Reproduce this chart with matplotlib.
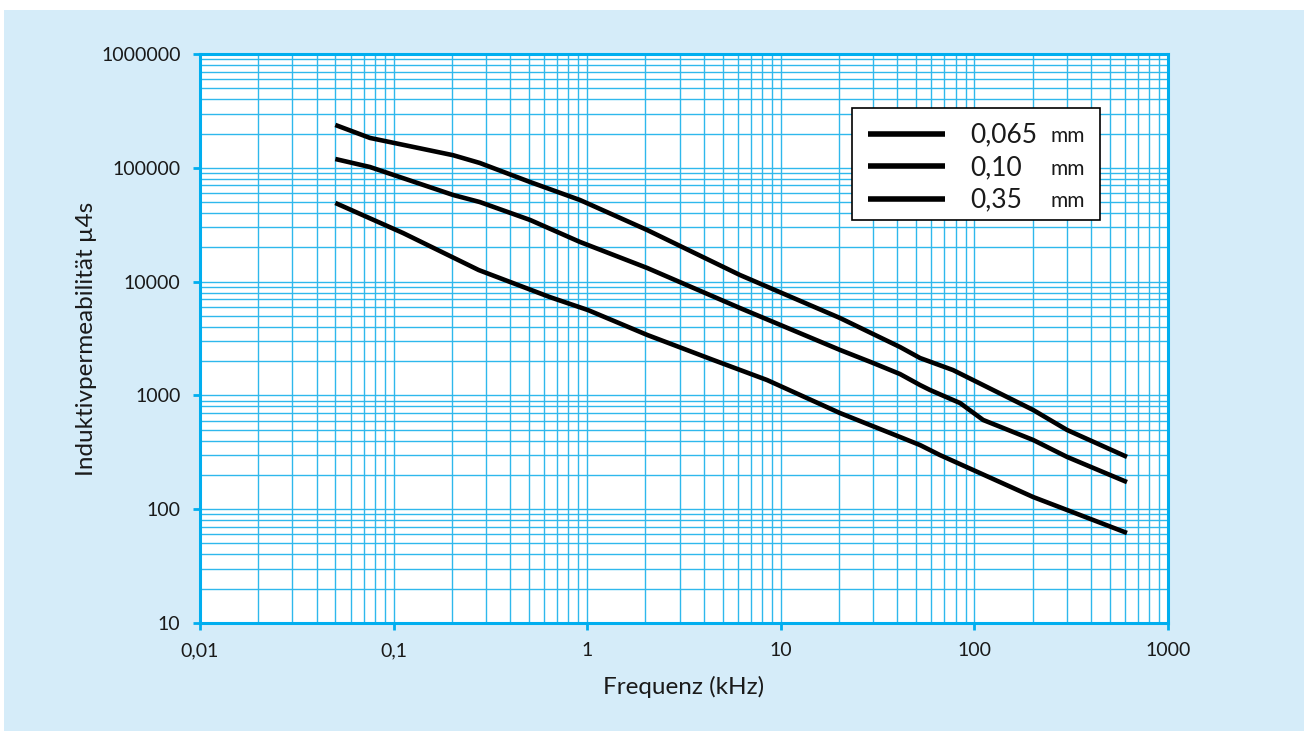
import matplotlib
matplotlib.use("Agg")
import matplotlib.pyplot as plt
from matplotlib.patches import Rectangle
from matplotlib.ticker import LogLocator, FixedLocator, FixedFormatter, NullFormatter

plt.rcParams['font.family'] = ['Lato', 'DejaVu Sans']

# ---- data (frequency in kHz, permeability) ----
x_065 = [0.05, 0.0755, 0.203, 0.279, 0.507, 0.918, 2.04, 6.15, 20.2, 41.3, 52.4, 77.5, 201, 301, 614]
y_065 = [238000, 183000, 129000, 110200, 75000, 52100, 28400, 11430, 4790, 2660, 2130, 1670, 745, 497, 288]

x_010 = [0.05, 0.0755, 0.203, 0.279, 0.507, 0.918, 2.04, 6.15, 20.2, 29.9, 41.3, 52.4, 59, 84.3, 111, 201, 301, 614]
y_010 = [119500, 101600, 57700, 50000, 34800, 22300, 13180, 5860, 2510, 1930, 1540, 1233, 1115, 857, 608, 406, 288, 173]

x_035 = [0.05, 0.112, 0.275, 0.64, 1.01, 2.04, 4.47, 8.49, 20.2, 41.3, 52.4, 66.4, 201, 301, 614]
y_035 = [49100, 26700, 12640, 7320, 5620, 3400, 2050, 1365, 700, 431, 366, 299, 128, 98.4, 61.8]

series_labels = ["0,065", "0,10", "0,35"]
unit_label = "mm"

x_ticks = [0.01, 0.1, 1, 10, 100, 1000]
x_ticklabels = ["0,01", "0,1", "1", "10", "100", "1000"]
y_ticks = [10, 100, 1000, 10000, 100000, 1000000]
y_ticklabels = ["10", "100", "1000", "10000", "100000", "1000000"]

xlabel = "Frequenz (kHz)"
ylabel = "Induktivpermeabilität µ4s"

# ---- style ----
BG = '#d5ecf9'
CYAN = '#00aeef'
GRID = '#2fb8ec'
TXT = '#1a1a1a'

fig = plt.figure(figsize=(13.04, 7.31), dpi=100)
fig.patch.set_facecolor('white')
fig.patches.append(Rectangle((4 / 1304, 0), 1 - 4 / 1304, 1 - 10 / 731,
                             transform=fig.transFigure, facecolor=BG,
                             edgecolor='none', zorder=-10))

ax = fig.add_axes([200 / 1304, 1 - 623 / 731, 968 / 1304, 569 / 731])
ax.set_facecolor('white')
ax.set_xscale('log')
ax.set_yscale('log')
ax.set_xlim(0.01, 1000)
ax.set_ylim(10, 1000000)

ax.xaxis.set_major_locator(FixedLocator(x_ticks))
ax.xaxis.set_major_formatter(FixedFormatter(x_ticklabels))
ax.yaxis.set_major_locator(FixedLocator(y_ticks))
ax.yaxis.set_major_formatter(FixedFormatter(y_ticklabels))
ax.xaxis.set_minor_locator(LogLocator(base=10, subs=range(2, 10), numticks=20))
ax.yaxis.set_minor_locator(LogLocator(base=10, subs=range(2, 10), numticks=20))
ax.xaxis.set_minor_formatter(NullFormatter())
ax.yaxis.set_minor_formatter(NullFormatter())

ax.grid(True, which='both', color=GRID, linewidth=1.0)
ax.set_axisbelow(True)
for s in ax.spines.values():
    s.set_color(CYAN)
    s.set_linewidth(2.2)
ax.tick_params(which='major', direction='out', length=5, width=2, color=CYAN,
               labelsize=14, labelcolor=TXT, pad=9)
ax.tick_params(which='minor', length=0)

lw = 3.3
for xs, ys in ((x_065, y_065), (x_010, y_010), (x_035, y_035)):
    ax.plot(xs, ys, color='black', lw=lw, solid_capstyle='butt',
            solid_joinstyle='round', zorder=3)

ax.set_xlabel(xlabel, fontsize=17.5, color=TXT, labelpad=12)
ax.set_ylabel(ylabel, fontsize=17.5, color=TXT, labelpad=3)

# ---- legend (manual, to align the unit column) ----
def ax_x(px):
    return (px - 200) / 968

def ax_y(py):
    return (623 - py) / 569

ax.add_patch(Rectangle((ax_x(852), ax_y(220)), ax_x(1100) - ax_x(852), ax_y(108) - ax_y(220),
                       transform=ax.transAxes, facecolor='white', edgecolor='black',
                       linewidth=1.2, zorder=5))
for i, lab in enumerate(series_labels):
    py = 134 + 32.5 * i
    yy = ax_y(py)
    ax.plot([ax_x(868), ax_x(945)], [yy, yy], transform=ax.transAxes, color='black',
            lw=4, solid_capstyle='butt', zorder=6)
    yb = ax_y(py + 8.5)
    ax.text(ax_x(970), yb, lab, transform=ax.transAxes, fontsize=19,
            va='baseline', ha='left', color=TXT, zorder=6)
    ax.text(ax_x(1051), yb, unit_label, transform=ax.transAxes, fontsize=15,
            va='baseline', ha='left', color=TXT, zorder=6)

fig.savefig('out.png', dpi=100, facecolor=fig.get_facecolor())
